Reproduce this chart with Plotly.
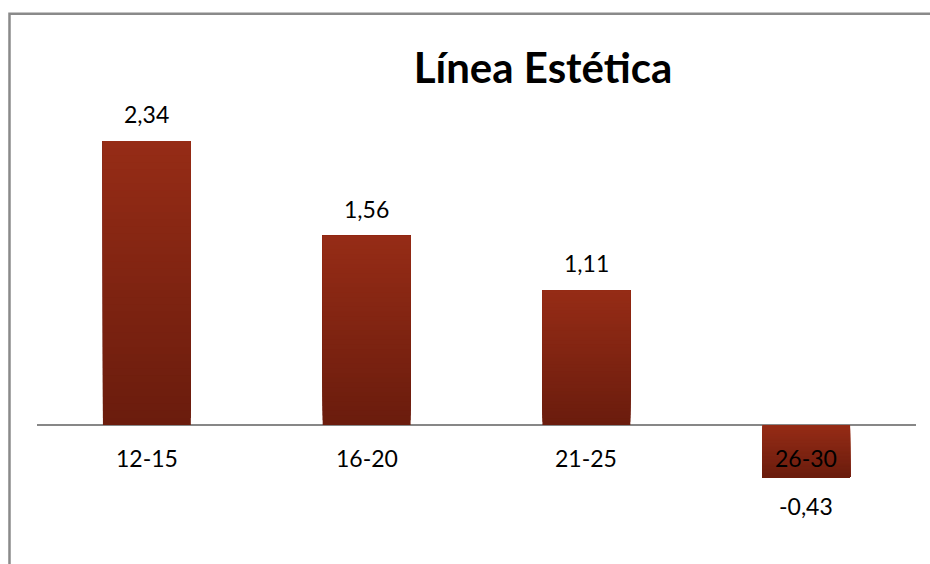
import plotly.graph_objects as go

# Chart data
categories = ["12-15", "16-20", "21-25", "26-30"]
values = [2.34, 1.56, 1.11, -0.43]
title_text = "Línea Estética"

# Style
FONT = "Lato"
TOP_RGB = (150, 44, 22)     # brighter red near the top of each bar
BOTTOM_RGB = (106, 28, 13)  # darker red near the bottom
N_STEPS = 40                # gradient steps per bar
BAR_WIDTH = 0.4

W, H = 930, 564
M_L, M_R, M_T, M_B = 37, 14, 30, 24
Y_RANGE = [-0.947, 3.254]


def mix(t):
    """t=0 -> bottom colour, t=1 -> top colour."""
    r, g, b = (round(BOTTOM_RGB[i] + (TOP_RGB[i] - BOTTOM_RGB[i]) * t) for i in range(3))
    return f"rgb({r},{g},{b})"


def fmt(v):
    return f"{v:.2f}".replace(".", ",")


fig = go.Figure()

# Vertical gradient: overlaid bars, each one starting a step further from
# zero and reaching the bar's value, so later traces cover the earlier ones.
for k in range(N_STEPS):
    frac = k / N_STEPS
    bases, heights, colors = [], [], []
    for v in values:
        bases.append(v * frac)
        heights.append(v * (1 - frac))
        # screen-vertical position of this step (0 = bottom, 1 = top)
        t = (k + 0.5) / N_STEPS if v >= 0 else 1 - (k + 0.5) / N_STEPS
        colors.append(mix(t))
    fig.add_trace(go.Bar(
        x=categories, y=heights, base=bases, width=BAR_WIDTH,
        marker=dict(color=colors, line=dict(width=0)),
        hoverinfo="skip", showlegend=False,
    ))

# Value labels above / below each bar
for c, v in zip(categories, values):
    fig.add_annotation(
        x=c, y=v, text=fmt(v), showarrow=False,
        yanchor="middle", yshift=27 if v >= 0 else -29,
        font=dict(family=FONT, size=23, color="#000000"),
    )

# Category labels sitting just under the zero line
for c in categories:
    fig.add_annotation(
        x=c, y=0, text=c, showarrow=False,
        yanchor="middle", yshift=-33,
        font=dict(family=FONT, size=23, color="#000000"),
    )

# Chart-area frame (left and top edges)
fig.add_shape(
    type="path", xref="paper", yref="paper",
    path="M -0.0313,-0.2 L -0.0313,1.032 L 1.2,1.032",
    line=dict(color="#8a8a8a", width=2.5),
)

fig.update_layout(
    width=W, height=H,
    margin=dict(l=M_L, r=M_R, t=M_T, b=M_B),
    paper_bgcolor="white", plot_bgcolor="white",
    barmode="overlay",
    title=dict(
        text=f"<b>{title_text}</b>",
        x=543 / W, xanchor="center", xref="container",
        y=1 - 68 / H, yanchor="middle", yref="container",
        font=dict(family=FONT, size=42, color="#000000"),
    ),
    xaxis=dict(showticklabels=False, showgrid=False, zeroline=False,
               showline=False, ticks="", range=[-0.5, 3.5]),
    yaxis=dict(showticklabels=False, showgrid=False, zeroline=True,
               zerolinecolor="#878787", zerolinewidth=2,
               showline=False, ticks="", range=Y_RANGE),
    showlegend=False,
)

fig.write_html("out.html")
